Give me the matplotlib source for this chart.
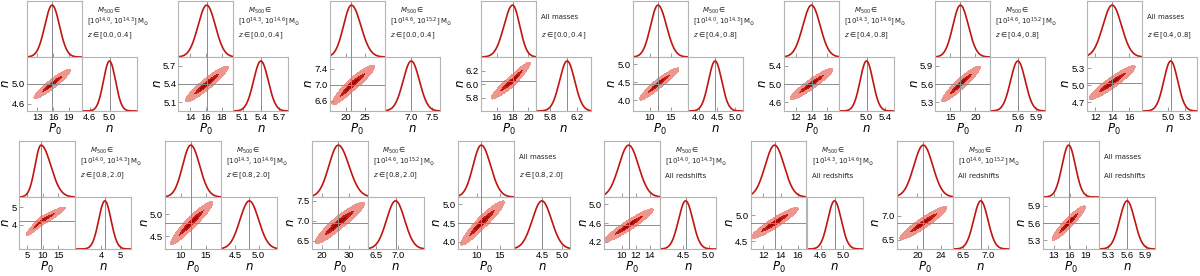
import numpy as np
import matplotlib
matplotlib.use("Agg")
import matplotlib.pyplot as plt

# ── data (one entry per corner plot) ────────────────────────────────────────
mass_bins = [r"[10^{14.0}, 10^{14.3}]", r"[10^{14.3}, 10^{14.6}]",
             r"[10^{14.6}, 10^{15.2}]", None]
z_bins = [r"$z \in [0.0, 0.4]$", r"$z \in [0.4, 0.8]$",
          r"$z \in [0.8, 2.0]$", "All redshifts"]

p0_mu     = [15.8, 16.1, 21.5, 18.0, 12.0, 14.0, 17.0, 14.0,
             9.5, 12.0, 26.0, 11.0, 11.0, 13.3, 21.0, 15.8]
p0_sig_lo = [1.4, 1.1, 2.0, 1.1, 1.75, 1.1, 1.5, 1.1,
             1.9, 1.6, 3.5, 1.75, 1.4, 1.1, 1.6, 1.25]
p0_sig_hi = [1.4, 1.1, 2.4, 0.9, 2.0, 1.1, 1.6, 1.1,
             3.1, 1.75, 4.0, 2.0, 1.4, 1.1, 1.6, 1.25]
n_mu      = [5.0, 5.4, 7.0, 6.05, 4.45, 5.0, 5.6, 5.05,
             4.2, 4.8, 6.95, 4.5, 4.55, 4.85, 6.85, 5.6]
n_sig     = [0.12, 0.12, 0.20, 0.11, 0.18, 0.14, 0.12, 0.12,
             0.33, 0.20, 0.21, 0.24, 0.14, 0.12, 0.14, 0.12]
rho       = [0.93, 0.93, 0.93, 0.94, 0.94, 0.93, 0.93, 0.93,
             0.95, 0.94, 0.93, 0.94, 0.94, 0.93, 0.93, 0.93]

p0_lim = [(11, 21.5), (12.5, 19.5), (16, 30), (14, 21), (6, 19), (10.5, 17.5),
          (12, 23), (11, 17.5), (2.5, 20.3), (7, 18), (16, 37), (6, 18),
          (7.5, 15.5), (10.5, 17), (16.5, 26), (11, 21.5)]
n_lim = [(4.45, 5.55), (4.95, 5.85), (6.35, 7.7), (5.6, 6.4), (3.7, 5.2),
         (4.4, 5.6), (5.15, 6.05), (4.55, 5.5), (2.6, 5.6), (4.2, 5.4),
         (6.3, 7.6), (3.8, 5.2), (4.05, 5.15), (4.35, 5.35), (6.3, 7.4),
         (5.15, 6.05)]

p0_ticks = [[13, 16, 19], [14, 16, 18], [20, 25], [16, 18, 20],
            [10, 15], [12, 14, 16], [15, 20], [12, 14, 16],
            [5, 10, 15], [10, 15], [20, 30], [10, 15],
            [10, 12, 14], [12, 14, 16], [20, 24], [13, 16, 19]]
n_yticks = [[4.6, 5.0], [5.1, 5.4, 5.7], [6.6, 7.0, 7.4], [5.8, 6.0, 6.2],
            [4.0, 4.5, 5.0], [4.6, 5.0, 5.4], [5.3, 5.6, 5.9], [4.7, 5.0, 5.3],
            [4, 5], [4.5, 5.0], [6.5, 7.0, 7.5], [4.0, 4.5, 5.0],
            [4.2, 4.6, 5.0], [4.5, 5.0], [6.5, 7.0], [5.3, 5.6, 5.9]]
n_xticks = [[4.6, 5.0], [5.1, 5.4, 5.7], [7.0, 7.5], [5.8, 6.2],
            [4.0, 4.5, 5.0], [5.0, 5.4], [5.6, 5.9], [5.0, 5.3],
            [4, 5], [4.5, 5.0], [6.5, 7.0], [4.5, 5.0],
            [4.5, 5.0], [4.6, 5.0], [6.5, 7.0], [5.3, 5.6, 5.9]]

RED = "#c0150f"
GREY = "#8c8c8c"
FRAME = "#b4b4b4"

W, H = 1200, 276
fig = plt.figure(figsize=(W / 100, H / 100), dpi=100)


def add_px(x, y, w, h):
    return fig.add_axes([x / W, 1 - (y + h) / H, w / W, h / H])


def style(ax):
    for s in ax.spines.values():
        s.set_color(FRAME)
        s.set_linewidth(0.8)
    ax.tick_params(direction="in", length=3, width=0.6, color=GREY,
                   labelsize=6.8, pad=1.5)
    for lab in ax.get_xticklabels() + ax.get_yticklabels():
        lab.set_family("Liberation Sans")


def fmt(ticks):
    return [f"{t:.1f}" if isinstance(t, float) else str(t) for t in ticks]


def split_u(p, k):
    s = np.where(p < p0_mu[k], p0_sig_lo[k], p0_sig_hi[k])
    return (p - p0_mu[k]) / s


def corner(k, x0, y0, cw, ch_top, ch_bot):
    ax_p = add_px(x0, y0, cw, ch_top)
    ax_2 = add_px(x0, y0 + ch_top, cw, ch_bot)
    ax_n = add_px(x0 + cw, y0 + ch_top, cw, ch_bot)

    px = np.linspace(*p0_lim[k], 300)
    nx = np.linspace(*n_lim[k], 300)

    # P0 marginal
    ax_p.plot(px, np.exp(-0.5 * split_u(px, k) ** 2), color=RED, lw=1.2)
    ax_p.axvline(p0_mu[k], color=GREY, lw=0.7, zorder=0)
    ax_p.set_xlim(p0_lim[k])
    ax_p.set_ylim(0, 1.08)
    ax_p.set_xticks(p0_ticks[k])
    ax_p.set_xticklabels([])
    ax_p.set_yticks([])

    # joint posterior
    P, N = np.meshgrid(px, nx)
    u = split_u(P, k)
    v = (N - n_mu[k]) / n_sig[k]
    r2 = (u ** 2 - 2 * rho[k] * u * v + v ** 2) / (1 - rho[k] ** 2)
    ax_2.contourf(P, N, r2, levels=[0, 0.8, 2.3, 6.17],
                  colors=["#9c0606", "#c41b14", "#ec968e"])
    ax_2.axvline(p0_mu[k], color=GREY, lw=0.7, zorder=3)
    ax_2.axhline(n_mu[k], color=GREY, lw=0.7, zorder=3)
    ax_2.set_xlim(p0_lim[k])
    ax_2.set_ylim(n_lim[k])
    ax_2.set_xticks(p0_ticks[k])
    ax_2.set_yticks(n_yticks[k])
    ax_2.set_xticklabels(fmt(p0_ticks[k]))
    ax_2.set_yticklabels(fmt(n_yticks[k]))
    ax_2.set_xlabel(r"$P_0$", fontsize=8.5, labelpad=0)
    ax_2.set_ylabel(r"$n$", fontsize=8.5, labelpad=-0.5)

    # n marginal
    ax_n.plot(nx, np.exp(-0.5 * ((nx - n_mu[k]) / n_sig[k]) ** 2), color=RED, lw=1.2)
    ax_n.axvline(n_mu[k], color=GREY, lw=0.7, zorder=0)
    ax_n.set_xlim(n_lim[k])
    ax_n.set_ylim(0, 1.08)
    ax_n.set_xticks(n_xticks[k])
    ax_n.set_xticklabels(fmt(n_xticks[k]))
    ax_n.set_yticks([])
    ax_n.set_xlabel(r"$n$", fontsize=8.5, labelpad=0)

    for ax in (ax_p, ax_2, ax_n):
        style(ax)

    # label block
    tx = x0 + cw + 5
    mb = mass_bins[k % 4]
    if mb is None:
        fig.text(tx / W, 1 - (y0 + 16) / H, "All masses", fontsize=5,
                 va="center", ha="left", color="#222222")
    else:
        fig.text((tx + 22) / W, 1 - (y0 + 10) / H, r"$M_{500} \in$", fontsize=5,
                 va="center", ha="center", color="#222222")
        fig.text(tx / W, 1 - (y0 + 21) / H, r"$" + mb + r"\,\mathrm{M}_{\odot}$",
                 fontsize=5, va="center", ha="left", color="#222222")
    fig.text(tx / W, 1 - (y0 + 35) / H, z_bins[k // 4], fontsize=5,
             va="center", ha="left", color="#222222")


for k in range(8):
    corner(k, 27 + k * 151.4, 1, 55, 56, 54)
for k in range(8, 16):
    corner(k, 19 + (k - 8) * 146.3, 141, 56, 56, 52)

fig.savefig("out.png", dpi=100)
